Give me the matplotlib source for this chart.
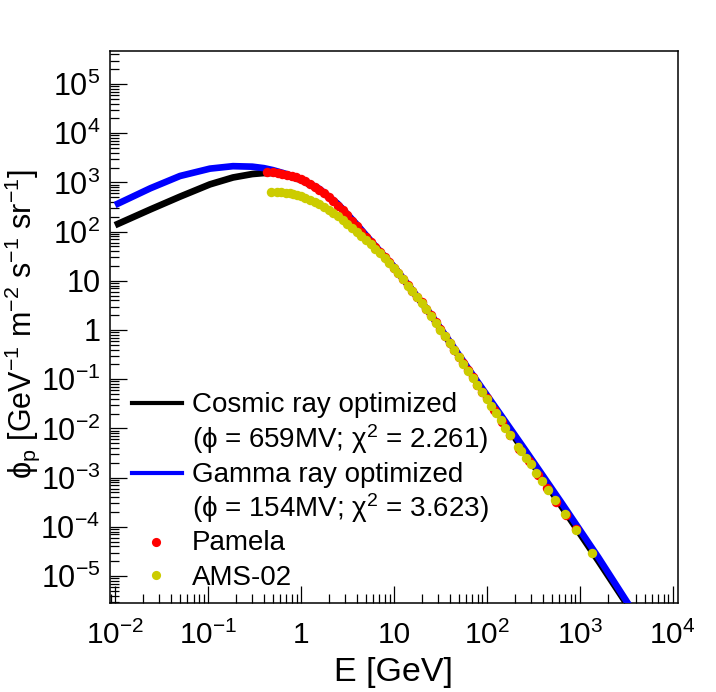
import matplotlib
matplotlib.use('Agg')
import matplotlib.pyplot as plt
from matplotlib.ticker import LogLocator, NullFormatter, FixedLocator

plt.rcParams['font.family'] = ['Liberation Sans', 'DejaVu Sans']
plt.rcParams['mathtext.fontset'] = 'custom'
plt.rcParams['mathtext.rm'] = 'Liberation Sans'
plt.rcParams['mathtext.it'] = 'Liberation Sans'
plt.rcParams['mathtext.bf'] = 'Liberation Sans:bold'
plt.rcParams['mathtext.default'] = 'regular'
plt.rcParams['mathtext.fallback'] = 'stixsans'

# model curves (E in GeV, flux in GeV^-1 m^-2 s^-1 sr^-1)
model_E = [0.01, 0.024, 0.05, 0.105, 0.186, 0.3, 0.4, 0.5, 0.7, 1.0, 1.58, 2.51, 3.98,
           6.31, 10, 15.8, 25.1, 39.8, 63.1, 100, 251, 631, 1585, 3162, 4000]
cosmic_F = [135, 282, 513, 912, 1259, 1479, 1549, 1549, 1380, 1122, 708, 355, 135,
            49.0, 19.1, 6.31, 2.04, 0.562, 0.158, 0.0447, 3.47e-3, 2.69e-4, 2.04e-5, 2.82e-6, 1.45e-6]
gamma_F = [347, 759, 1349, 1905, 2138, 2089, 1950, 1778, 1479, 1175, 741, 363, 141,
           51.3, 19.5, 6.46, 2.04, 0.589, 0.166, 0.0479, 3.98e-3, 3.16e-4, 2.40e-5, 3.16e-6, 1.58e-6]

# Pamela data
pam_E = [0.427, 0.501, 0.562, 0.631, 0.708, 0.794, 0.891, 1.00,
         1.12, 1.26, 1.41, 1.58, 1.78, 2.00, 2.24, 2.51, 2.82, 3.16,
         3.55, 3.98, 4.47, 5.01, 5.62, 6.31, 7.08, 7.94, 8.91, 10.0,
         11.2, 12.6, 14.1, 15.8, 17.8, 20.0, 22.4, 25.1, 28.2, 31.6,
         35.5, 39.8, 44.7, 50.1, 56.2, 63.1, 70.8, 79.4, 89.1, 100,
         120, 145, 178, 224, 282, 355, 447, 562, 708, 912]
pam_F = [1622, 1622, 1585, 1514, 1445, 1349, 1259, 1148,
         1047, 933, 813, 708, 603, 501, 417, 339, 269, 214,
         166, 129, 100, 77.6, 61.7, 47.9, 38.0, 30.2, 24.0, 18.6,
         14.5, 11.0, 8.13, 6.31, 4.79, 3.63, 2.69, 2.00, 1.45, 1.05,
         0.759, 0.550, 0.398, 0.288, 0.209, 0.151, 0.110, 0.0776, 0.0562, 0.0407,
         0.0240, 0.0138, 7.41e-3, 3.89e-3, 2.14e-3, 1.15e-3, 6.17e-4, 3.24e-4, 1.74e-4, 8.91e-5]

# AMS-02 data
ams_E = [0.479, 0.550, 0.617, 0.692, 0.759, 0.832, 0.912, 1.00,
         1.12, 1.26, 1.41, 1.58, 1.78, 2.00, 2.24, 2.51, 2.82, 3.16,
         3.55, 3.98, 4.47, 5.01, 5.62, 6.31, 7.08, 7.94, 8.91, 10.0,
         11.2, 12.6, 14.1, 15.8, 17.8, 20.0, 22.4, 25.1, 28.2, 31.6,
         35.5, 39.8, 44.7, 50.1, 56.2, 63.1, 70.8, 79.4, 89.1, 100,
         112, 126, 141, 158, 176, 216, 235, 265, 296, 340,
         391, 461, 548, 698, 916, 1360]
ams_F = [631, 631, 631, 617, 603, 575, 550, 525,
         490, 447, 407, 363, 316, 269, 234, 204, 174, 145,
         120, 100, 81.3, 67.6, 55.0, 44.7, 36.3, 28.8, 22.9, 18.2,
         14.1, 10.7, 7.94, 6.17, 4.68, 3.55, 2.63, 1.95, 1.41, 1.02,
         0.741, 0.537, 0.389, 0.282, 0.204, 0.148, 0.107, 0.0759, 0.0550, 0.0398,
         0.0282, 0.0204, 0.0145, 0.0102, 7.41e-3, 4.27e-3, 3.47e-3, 2.51e-3, 1.86e-3, 1.26e-3,
         8.71e-4, 5.50e-4, 3.47e-4, 1.78e-4, 8.51e-5, 2.88e-5]

x_ticks = [1e-2, 1e-1, 1, 10, 1e2, 1e3, 1e4]
x_labels = ['$10^{-2}$', '$10^{-1}$', '1', '10', '$10^{2}$', '$10^{3}$', '$10^{4}$']
y_ticks = [1e-5, 1e-4, 1e-3, 1e-2, 1e-1, 1, 10, 1e2, 1e3, 1e4, 1e5]
y_labels = ['$10^{-5}$', '$10^{-4}$', '$10^{-3}$', '$10^{-2}$', '$10^{-1}$', '1', '10',
            '$10^{2}$', '$10^{3}$', '$10^{4}$', '$10^{5}$']

yellow = '#cccc00'

fig = plt.figure(figsize=(7.16, 6.92), dpi=100)
ax = fig.add_axes([110/716, 1-603/692, 568/716, 552.3/692])
ax.set_xscale('log')
ax.set_yscale('log')

ax.plot(model_E, cosmic_F, color='black', lw=4.8, solid_capstyle='butt', zorder=2)
ax.plot(model_E, gamma_F, color='#0000ff', lw=4.8, solid_capstyle='butt', zorder=3)
ax.plot(pam_E, pam_F, 'o', color='red', ms=6.8, mec='none', zorder=4)
ax.plot(ams_E, ams_F, 'o', color=yellow, ms=6.8, mec='none', zorder=5)

ax.set_xlim(10**-2.054, 10**4.058)
ax.set_ylim(10**-5.549, 10**5.677)

ax.xaxis.set_major_locator(FixedLocator(x_ticks))
ax.set_xticklabels(x_labels)
ax.yaxis.set_major_locator(FixedLocator(y_ticks))
ax.set_yticklabels(y_labels)
ax.xaxis.set_minor_locator(LogLocator(base=10, subs=range(2, 10), numticks=30))
ax.yaxis.set_minor_locator(LogLocator(base=10, subs=range(2, 10), numticks=30))
ax.xaxis.set_minor_formatter(NullFormatter())
ax.yaxis.set_minor_formatter(NullFormatter())

ax.tick_params(which='both', direction='in', top=False, right=False, width=0.9)
ax.tick_params(which='major', length=12)
ax.tick_params(which='minor', length=6.5)
ax.tick_params(axis='x', pad=13, labelsize=21.5)
ax.tick_params(axis='y', pad=7, labelsize=22)
for s in ax.spines.values():
    s.set_linewidth(1.1)

fig.text(393/716, 1-672/692, 'E [GeV]', fontsize=24.5, ha='center', va='center')
fig.text(22/716, 1-324/692, '$\\phi_{p}$ [GeV$^{-1}$ m$^{-2}$ s$^{-1}$ sr$^{-1}$]',
         fontsize=22, rotation=90, ha='center', va='center')

# legend
tr = ax.transAxes
ax.plot([0.0387, 0.1268], [0.3621, 0.3621], color='black', lw=3, transform=tr, clip_on=False)
ax.plot([0.0387, 0.1268], [0.2354, 0.2354], color='#0000ff', lw=3, transform=tr, clip_on=False)
ax.plot([0.081], [0.1104], 'o', color='red', ms=6.6, mec='none', transform=tr)
ax.plot([0.081], [0.0507], 'o', color=yellow, ms=6.6, mec='none', transform=tr)
leg_rows = [('Cosmic ray optimized', 0.3458),
            ('($\\phi$ = 659MV; χ$^{2}$ = 2.261)', 0.2806),
            ('Gamma ray optimized', 0.2191),
            ('($\\phi$ = 154MV; χ$^{2}$ = 3.623)', 0.1557),
            ('Pamela', 0.0960),
            ('AMS-02', 0.0326)]
for txt, yb in leg_rows:
    ax.text(0.1444, yb, txt, fontsize=20, transform=tr, ha='left', va='baseline')

fig.savefig('out.png', dpi=100)
